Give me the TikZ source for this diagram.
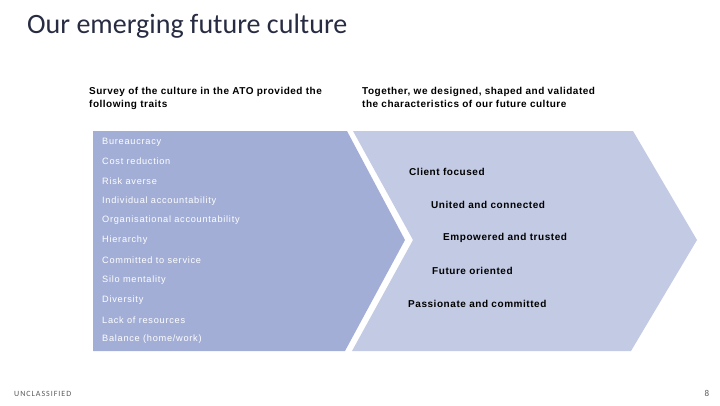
\documentclass[tikz,border=0pt]{standalone}
\usepackage{fontspec}
\setmainfont{Liberation Sans}
\newfontfamily\titlefont{Carlito}
\usetikzlibrary{positioning}
\definecolor{navytext}{RGB}{40,44,66}
\definecolor{oldfill}{RGB}{162,174,214}
\definecolor{newfill}{RGB}{195,202,227}

\begin{document}
\begin{tikzpicture}[
    x=1pt, y=-1pt,
    trait/.style={anchor=west, inner sep=0pt, text=white,
                  font=\fontsize{9.2}{10}\selectfont\addfontfeature{LetterSpace=8}},
    value/.style={anchor=west, inner sep=0pt,
                  font=\fontsize{10}{11}\selectfont\bfseries\addfontfeature{LetterSpace=5.5}},
    header/.style={anchor=north west, inner sep=0pt, align=left,
                   font=\fontsize{10}{13}\selectfont\bfseries\addfontfeature{LetterSpace=5}},
  ]
  \useasboundingbox (0,0) rectangle (720,405);
  % chevrons
  \fill[oldfill] (93,131) -- (347,131) -- (405,240) -- (345,351) -- (93,351) -- cycle;
  \fill[newfill] (353,131) -- (633,131) -- (697,240) -- (631,351) -- (352,351)
                 -- (413,240) -- cycle;

  \node[anchor=west, inner sep=0pt, text=navytext, font=\titlefont\fontsize{28}{32}\selectfont]
    (title) at (27,26) {Our emerging future culture};

  \node[header] (hleft) at (89,87)
    {Survey of the culture in the ATO provided the\\following traits};
  \node[header] (hright) at (362,87)
    {Together, we designed, shaped and validated\\the characteristics of our future culture};

  \node[trait] (t1)  at (102,142) {Bureaucracy};
  \node[trait] (t2)  at (102,161.5) {Cost reduction};
  \node[trait] (t3)  at (102,181) {Risk averse};
  \node[trait] (t4)  at (102,201) {Individual accountability};
  \node[trait] (t5)  at (102,220.5) {Organisational accountability};
  \node[trait] (t6)  at (102,240.5) {Hierarchy};
  \node[trait] (t7)  at (102,260.5) {Committed to service};
  \node[trait] (t8)  at (102,280.5) {Silo mentality};
  \node[trait] (t9)  at (102,300) {Diversity};
  \node[trait] (t10) at (102,320) {Lack of resources};
  \node[trait] (t11) at (102,339.5) {Balance (home/work)};

  \node[value] (v1) at (409,172) {Client focused};
  \node[value] (v2) at (431,205) {United and connected};
  \node[value] (v3) at (443,238) {Empowered and trusted};
  \node[value] (v4) at (432,271) {Future oriented};
  \node[value] (v5) at (408,304) {Passionate and committed};

  \node[anchor=west, inner sep=0pt, text=black!65,
        font=\titlefont\fontsize{8}{9}\selectfont\addfontfeature{LetterSpace=12}]
    (mark) at (14,394) {UNCLASSIFIED};
  \node[inner sep=0pt, text=black!65, font=\titlefont\fontsize{9}{10}\selectfont]
    (page) at (707,393) {8};
\end{tikzpicture}
\end{document}
